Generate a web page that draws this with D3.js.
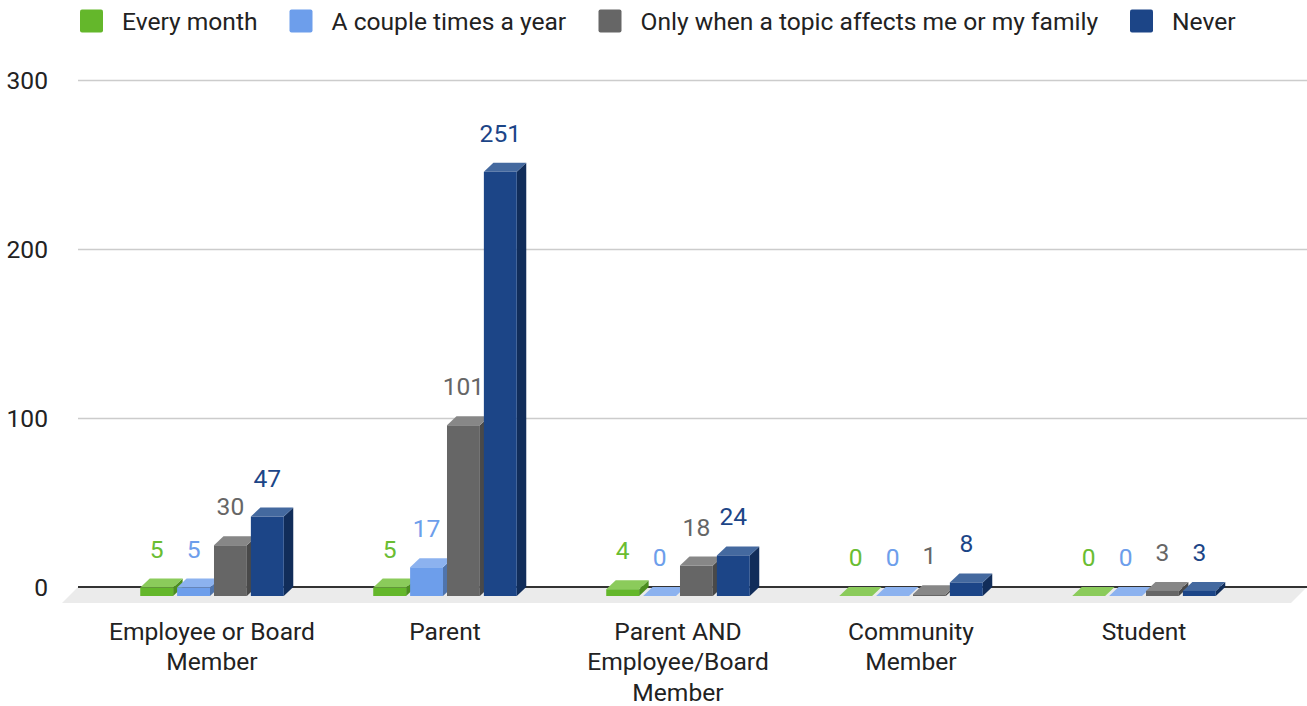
<!DOCTYPE html>
<html>
<head>
<meta charset="utf-8">
<script src="https://cdn.jsdelivr.net/npm/d3@7/dist/d3.min.js"></script>
<style>
  html, body { margin: 0; padding: 0; background: #ffffff; }
  svg { display: block; }
  text { font-family: Roboto, "Noto Sans", sans-serif; }
</style>
</head>
<body>
<svg id="chart" width="1307" height="706"></svg>
<script>
// ---- data ----
const categories = ["Employee or Board Member", "Parent", "Parent AND Employee/Board Member", "Community Member", "Student"];
const categoryLines = [["Employee or Board", "Member"], ["Parent"], ["Parent AND", "Employee/Board", "Member"], ["Community", "Member"], ["Student"]];
const seriesNames = ["Every month", "A couple times a year", "Only when a topic affects me or my family", "Never"];
const everyMonth = [5, 5, 4, 0, 0];
const coupleTimesAYear = [5, 17, 0, 0, 0];
const onlyWhenAffects = [30, 101, 18, 1, 3];
const never = [47, 251, 24, 8, 3];
const yTicks = [0, 100, 200, 300];

const seriesValues = [everyMonth, coupleTimesAYear, onlyWhenAffects, never];
const colors = [
  { front: "#64b72b", top: "#8bcb5b", side: "#4c8f1f", label: "#6abd32" },
  { front: "#6d9eeb", top: "#8cb2ef", side: "#4f74ad", label: "#6d9eeb" },
  { front: "#666666", top: "#878787", side: "#494949", label: "#666666" },
  { front: "#1c4587", top: "#44699f", side: "#112d5a", label: "#1c4587" }
];

const FS = 24.6;
const svg = d3.select("#chart");
const DX = 9.5, DY = 9;

const y = d3.scaleLinear().domain([0, 300]).range([587, 80]);
const x0 = d3.scaleBand().domain(categories).range([95.5, 1260.5]).paddingInner(0.384).paddingOuter(0.192);
const x1 = d3.scaleBand().domain(seriesNames).range([0, x0.bandwidth()]).paddingInner(0.108).paddingOuter(0);

// floor
svg.append("polygon")
  .attr("points", [[78, 587], [1307, 587], [1291, 603], [62, 603]].map(p => p.join(",")).join(" "))
  .attr("fill", "#ebebeb");

// gridlines
svg.append("g").selectAll("line").data(yTicks.filter(t => t !== 0)).join("line")
  .attr("x1", 78).attr("x2", 1307)
  .attr("y1", d => Math.round(y(d)) + 0.5).attr("y2", d => Math.round(y(d)) + 0.5)
  .attr("stroke", "#cccccc").attr("stroke-width", 1.5);

// zero line
svg.append("line").attr("x1", 78).attr("x2", 1307)
  .attr("y1", y(0)).attr("y2", y(0))
  .attr("stroke", "#333333").attr("stroke-width", 2);

// y axis labels
svg.append("g").selectAll("text").data(yTicks).join("text")
  .attr("x", 48).attr("y", d => y(d) + 8.7)
  .attr("text-anchor", "end").attr("font-size", FS).attr("fill", "#222222")
  .text(d => d);

// bars
const barsG = svg.append("g");
categories.forEach((cat, ci) => {
  seriesNames.forEach((s, si) => {
    const v = seriesValues[si][ci];
    const xl = x0(cat) + x1(s);
    const w = x1.bandwidth();
    const yb = y(v), y0b = y(0);
    const yf = yb + DY, y0f = y0b + DY;
    const c = colors[si];
    const g = barsG.append("g");
    const pts = a => a.map(p => p.join(",")).join(" ");
    g.append("polygon").attr("points", pts([[xl + w, yf], [xl + w + DX, yb], [xl + w + DX, y0b], [xl + w, y0f]])).attr("fill", c.side);
    g.append("polygon").attr("points", pts([[xl, yf], [xl + w, yf], [xl + w + DX, yb], [xl + DX, yb]])).attr("fill", c.top);
    if (v > 0) g.append("rect").attr("x", xl).attr("y", yf).attr("width", w).attr("height", y0f - yf).attr("fill", c.front);
  });
});

// value labels
const labG = svg.append("g");
categories.forEach((cat, ci) => {
  seriesNames.forEach((s, si) => {
    const v = seriesValues[si][ci];
    labG.append("text")
      .attr("x", x0(cat) + x1(s) + x1.bandwidth() / 2)
      .attr("y", y(v) - 21)
      .attr("text-anchor", "middle").attr("font-size", FS)
      .attr("fill", colors[si].label)
      .text(v);
  });
});

// category labels
const catG = svg.append("g");
categories.forEach((cat, ci) => {
  const cx = x0(cat) + x0.bandwidth() / 2;
  const t = catG.append("text")
    .attr("x", cx).attr("y", 639.5)
    .attr("text-anchor", "middle").attr("font-size", FS).attr("fill", "#222222");
  categoryLines[ci].forEach((line, li) => {
    t.append("tspan").attr("x", cx).attr("dy", li === 0 ? 0 : 30.5).text(line);
  });
});

// legend
const legendX = [80, 289.5, 598.5, 1130];
const leg = svg.append("g");
seriesNames.forEach((s, i) => {
  leg.append("rect").attr("x", legendX[i]).attr("y", 9.5).attr("width", 23).attr("height", 23)
    .attr("rx", 2).attr("fill", colors[i].front);
  leg.append("text").attr("x", legendX[i] + 42).attr("y", 29.8)
    .attr("font-size", FS).attr("fill", "#222222").text(s);
});
</script>
</body>
</html>
